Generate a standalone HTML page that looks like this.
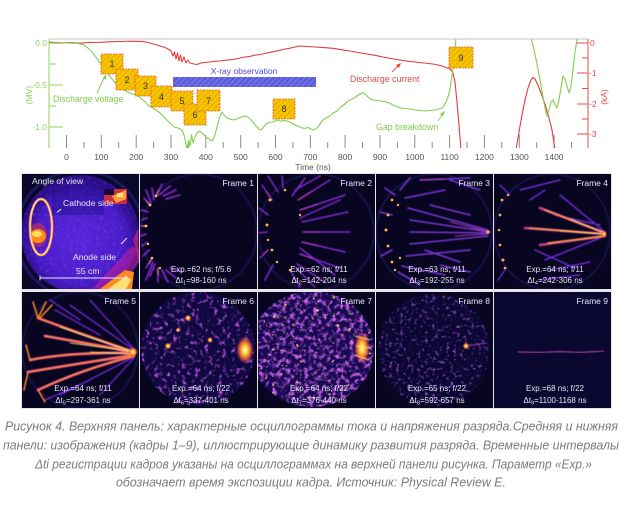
<!DOCTYPE html>
<html><head><meta charset="utf-8">
<style>
html,body{margin:0;padding:0;background:#fff;}
svg{display:block;}
text{font-family:"Liberation Sans","Noto Sans CJK SC",sans-serif;}
</style></head>
<body>
<svg width="624" height="511" viewBox="0 0 624 511" xmlns="http://www.w3.org/2000/svg">
<defs>
  <pattern id="yh" width="4" height="4" patternUnits="userSpaceOnUse" patternTransform="rotate(45)">
    <rect width="4" height="4" fill="#f6c400"/>
    <line x1="0" y1="0" x2="0" y2="4" stroke="#e39a00" stroke-width="1.3"/>
  </pattern>
  <pattern id="bh" width="4" height="4" patternUnits="userSpaceOnUse" patternTransform="rotate(45)">
    <rect width="4" height="4" fill="#6c6ce4"/>
    <line x1="0" y1="0" x2="0" y2="4" stroke="#4242c4" stroke-width="1.4"/>
  </pattern>
  <clipPath id="plot"><rect x="49" y="39" width="539" height="109"/></clipPath>
  <clipPath id="c0"><rect x="22" y="174" width="117" height="115"/></clipPath>
  <clipPath id="c1"><rect x="140" y="174" width="117" height="115"/></clipPath>
  <clipPath id="c2"><rect x="258" y="174" width="117" height="115"/></clipPath>
  <clipPath id="c3"><rect x="376" y="174" width="117" height="115"/></clipPath>
  <clipPath id="c4"><rect x="494" y="174" width="117" height="115"/></clipPath>
  <clipPath id="c5"><rect x="22" y="292" width="117" height="116"/></clipPath>
  <clipPath id="c6"><rect x="140" y="292" width="117" height="116"/></clipPath>
  <clipPath id="c7"><rect x="258" y="292" width="117" height="116"/></clipPath>
  <clipPath id="c8"><rect x="376" y="292" width="117" height="116"/></clipPath>
  <clipPath id="c9"><rect x="494" y="292" width="117" height="116"/></clipPath>
  <radialGradient id="disk0" cx="0.5" cy="0.55" r="0.5">
    <stop offset="0" stop-color="#5a26dc"/>
    <stop offset="0.75" stop-color="#4a1cc8"/>
    <stop offset="1" stop-color="#2a0c88"/>
  </radialGradient>
  <radialGradient id="hot">
    <stop offset="0" stop-color="#ffffd0"/>
    <stop offset="0.3" stop-color="#ffd040"/>
    <stop offset="0.65" stop-color="#ff7020" stop-opacity="0.8"/>
    <stop offset="1" stop-color="#c02090" stop-opacity="0"/>
  </radialGradient>
  <filter id="soft" x="-10%" y="-10%" width="120%" height="120%"><feGaussianBlur stdDeviation="0.5"/></filter>
  <filter id="spk6" x="0" y="0" width="1" height="1">
    <feTurbulence type="fractalNoise" baseFrequency="0.22" numOctaves="2" seed="4" result="n"/>
    <feColorMatrix in="n" type="matrix" values="0 0 0 0 0.55  0 0 0 0 0.1  0 0 0 0 0.85  3.2 0 0 0 -1.72" result="c"/>
    <feComposite in="c" in2="SourceGraphic" operator="in"/>
  </filter>
  <filter id="spk7" x="0" y="0" width="1" height="1">
    <feTurbulence type="fractalNoise" baseFrequency="0.22" numOctaves="2" seed="9" result="n"/>
    <feColorMatrix in="n" type="matrix" values="0 0 0 0 0.6  0 0 0 0 0.12  0 0 0 0 0.85  3.3 0 0 0 -1.55" result="c"/>
    <feComposite in="c" in2="SourceGraphic" operator="in"/>
  </filter>
  <filter id="spk7o" x="0" y="0" width="1" height="1">
    <feTurbulence type="fractalNoise" baseFrequency="0.25" numOctaves="2" seed="21" result="n"/>
    <feColorMatrix in="n" type="matrix" values="0 0 0 0 1  0 0 0 0 0.5  0 0 0 0 0.2  6 0 0 0 -4.0" result="c"/>
    <feComposite in="c" in2="SourceGraphic" operator="in"/>
  </filter>
  <filter id="spk8" x="0" y="0" width="1" height="1">
    <feTurbulence type="fractalNoise" baseFrequency="0.28" numOctaves="2" seed="13" result="n"/>
    <feColorMatrix in="n" type="matrix" values="0 0 0 0 0.38  0 0 0 0 0.1  0 0 0 0 0.72  2.8 0 0 0 -1.55" result="c"/>
    <feComposite in="c" in2="SourceGraphic" operator="in"/>
  </filter>
  <filter id="spk0" x="0" y="0" width="1" height="1">
    <feTurbulence type="fractalNoise" baseFrequency="0.3" numOctaves="2" seed="5" result="n"/>
    <feColorMatrix in="n" type="matrix" values="0 0 0 0 0.45  0 0 0 0 0.2  0 0 0 0 0.95  2.5 0 0 0 -1.3" result="c"/>
    <feComposite in="c" in2="SourceGraphic" operator="in"/>
  </filter>
</defs>

<!-- ================= CHART ================= -->
<line x1="49" y1="39" x2="588" y2="39" stroke="#c4c4c4" stroke-width="1"/>
<line x1="49" y1="39" x2="49" y2="148" stroke="#8fd35c" stroke-width="1"/>
<g stroke="#8fd35c" stroke-width="1">
  <line x1="49" y1="43" x2="63" y2="43"/>
  <line x1="49" y1="64" x2="56" y2="64"/>
  <line x1="49" y1="85" x2="63" y2="85"/>
  <line x1="49" y1="106" x2="56" y2="106"/>
  <line x1="49" y1="127" x2="63" y2="127"/>
</g>
<g fill="#8fd35c" font-size="8.5" text-anchor="end">
  <text x="47" y="46">0.0</text>
  <text x="47" y="88">-0.5</text>
  <text x="47" y="130">-1.0</text>
</g>
<text transform="translate(32,95) rotate(-90)" fill="#8fd35c" font-size="8.5" text-anchor="middle">(MV)</text>
<line x1="588" y1="39" x2="588" y2="148" stroke="#e84a4a" stroke-width="1"/>
<g stroke="#e84a4a" stroke-width="1">
  <line x1="577" y1="43" x2="588" y2="43"/>
  <line x1="582" y1="58" x2="588" y2="58"/>
  <line x1="577" y1="73" x2="588" y2="73"/>
  <line x1="582" y1="88.5" x2="588" y2="88.5"/>
  <line x1="577" y1="104" x2="588" y2="104"/>
  <line x1="582" y1="119" x2="588" y2="119"/>
  <line x1="577" y1="134" x2="588" y2="134"/>
</g>
<g fill="#e84a4a" font-size="8.5">
  <text x="590" y="46">0</text>
  <text x="589" y="76">-1</text>
  <text x="589" y="107">-2</text>
  <text x="589" y="137">-3</text>
</g>
<text transform="translate(607,97) rotate(-90)" fill="#e84a4a" font-size="8.5" text-anchor="middle">(kA)</text>

<g stroke="#8a8a8a" stroke-width="1">
  <line x1="66.5" y1="135" x2="66.5" y2="148"/><line x1="84" y1="142" x2="84" y2="148"/>
  <line x1="101.3" y1="135" x2="101.3" y2="148"/><line x1="118.7" y1="142" x2="118.7" y2="148"/>
  <line x1="136.2" y1="135" x2="136.2" y2="148"/><line x1="153.6" y1="142" x2="153.6" y2="148"/>
  <line x1="171" y1="135" x2="171" y2="148"/><line x1="188.4" y1="142" x2="188.4" y2="148"/>
  <line x1="205.8" y1="135" x2="205.8" y2="148"/><line x1="223.2" y1="142" x2="223.2" y2="148"/>
  <line x1="240.7" y1="135" x2="240.7" y2="148"/><line x1="258.1" y1="142" x2="258.1" y2="148"/>
  <line x1="275.5" y1="135" x2="275.5" y2="148"/><line x1="292.9" y1="142" x2="292.9" y2="148"/>
  <line x1="310.3" y1="135" x2="310.3" y2="148"/><line x1="327.7" y1="142" x2="327.7" y2="148"/>
  <line x1="345.1" y1="135" x2="345.1" y2="148"/><line x1="362.5" y1="142" x2="362.5" y2="148"/>
  <line x1="380" y1="135" x2="380" y2="148"/><line x1="397.4" y1="142" x2="397.4" y2="148"/>
  <line x1="414.8" y1="135" x2="414.8" y2="148"/><line x1="432.2" y1="142" x2="432.2" y2="148"/>
  <line x1="449.6" y1="135" x2="449.6" y2="148"/><line x1="467" y1="142" x2="467" y2="148"/>
  <line x1="484.4" y1="135" x2="484.4" y2="148"/><line x1="501.8" y1="142" x2="501.8" y2="148"/>
  <line x1="519.3" y1="135" x2="519.3" y2="148"/><line x1="536.7" y1="142" x2="536.7" y2="148"/>
  <line x1="554.1" y1="135" x2="554.1" y2="148"/><line x1="571.5" y1="142" x2="571.5" y2="148"/>
</g>
<g fill="#555" font-size="8.5" text-anchor="middle">
  <text x="66.5" y="160">0</text><text x="101.3" y="160">100</text><text x="136.2" y="160">200</text>
  <text x="171" y="160">300</text><text x="205.8" y="160">400</text><text x="240.7" y="160">500</text>
  <text x="275.5" y="160">600</text><text x="310.3" y="160">700</text><text x="345.1" y="160">800</text>
  <text x="380" y="160">900</text><text x="414.8" y="160">1000</text><text x="449.6" y="160">1100</text>
  <text x="484.4" y="160">1200</text><text x="519.3" y="160">1300</text><text x="554.1" y="160">1400</text>
</g>
<text x="313" y="170" fill="#555" font-size="8.5" text-anchor="middle">Time (ns)</text>

<rect x="173" y="77" width="143" height="10" fill="url(#bh)"/>
<text x="244" y="74" fill="#4a4ad0" font-size="8.5" text-anchor="middle">X-ray observation</text>

<g clip-path="url(#plot)" fill="none" stroke-linejoin="round">
  <path stroke="#e23c3c" stroke-width="1.1" d="M49 42.5L60 43L70 42.6L80 43.2L90 42.4L100 42.3L110 41.8L120 41.5L130 41.2L140 41.4L146 42L150 43L155 44.5L160 46L165 47.5L168 49L171 51L173 56L174.5 52L176 59L177.5 53L179 61L180.5 55L182 62L184 57L186 63L188 60L190 63L194 64L197 64.5L201 63L205 62.5L210 62L215 61.2L220 61L225 60.3L233 59.5L240 58L245 57L250 56.4L255 55.2L260 54.5L267 53L273 51.8L280 50.3L285 49L290 48.2L295 47L300 46L307 46.5L315 47L324 47.6L333 48.3L342 49.8L350 51L358 52.5L367 54L375 55.3L383 57L391 58.5L400 60L408 61.2L415 62L424 63L433 64L438 65L442 66L446 67.5L449 68.5L451 70L453 73L455 82L457 102L459 125L461 150"/>
  <path stroke="#e23c3c" stroke-width="1.1" d="M516 150L519 132L522 115L525 100L528 88L531 80L533 77.5L535 79L538 85L541 93L545 104L549 118L552 130L555 150"/>
  <path stroke="#82cf4e" stroke-width="1.1" d="M49 42L60 42.5L70 43L78 43.5L84 45L88 48L92 52L96 57L100 63L104 69L108 74L112 79L116 84L120 88L124 90L128 92L132 94L136 95L140 97.5L144 101L148 105L152 107.5L156 110L160 113L164 117L168 121L171 124L174 127L178 128L182 130L184 135L185.5 142L187 150L188.5 140L190 146L191.5 135L193 143L195 137L197 133L200 131L203 134L206 137L209 139L212 141L214 138L216 131L218 123L220 116L222 112L224 115L227 118L230 119L233 120L237 119L240 117.5L244 116L247 116.5L250 119L253 122L256 126L259 129L261 130L263 128L266 124L269 122.5L273 122L277 120L281 121L285 120.5L290 122L295 125L300 127L304 128.5L308 127.5L313 130L317 128L320 124L323 120L326 118L330 116L333 113L337 111L341 107L345 104L348 101L351 99.5L354 98L357 96L360 94L363 92.5L366 95L369 98L373 100L377 100.5L381 101L385 101.5L389 103L393 105L397 106.5L401 108L405 108.5L410 109L415 110L420 110.5L425 111L430 110.5L435 110L439 109L442 108L444 106L446 102L448 97L450 89L452 76L454 58L456 38"/>
  <path stroke="#82cf4e" stroke-width="1.1" d="M531 38L534 50L537 64L540 80L543 97L545 108L547 116L549 110L551 102L553 100L555 105L557 108L559 100L561 88L563 76L565 79L567 86L569 93L571 86L573 70L575 52L577 40L578 38"/>
</g>

<text x="53" y="102" fill="#7fcb4a" font-size="8.8">Discharge voltage</text>
<path d="M97 93L104 78" stroke="#7fcb4a" stroke-width="0.9" fill="none"/>
<path d="M106 74L102.5 78.5L106 79.5Z" fill="#7fcb4a"/>
<text x="350" y="82" fill="#e34848" font-size="8.8">Discharge current</text>
<path d="M392 72L399 65" stroke="#e34848" stroke-width="0.9" fill="none"/>
<path d="M401 63L396 65L399 68Z" fill="#e34848"/>
<text x="376" y="130" fill="#7fcb4a" font-size="8.8">Gap breakdown</text>
<path d="M438 121L443 114" stroke="#7fcb4a" stroke-width="0.9" fill="none"/>
<path d="M445 111L440 114L443 116Z" fill="#7fcb4a"/>

<g stroke="#e0603c" stroke-width="0.8" stroke-dasharray="2,1">
  <rect x="101" y="54" width="22" height="20" fill="url(#yh)"/>
  <rect x="116" y="69" width="22" height="21" fill="url(#yh)"/>
  <rect x="135" y="76" width="21" height="20" fill="url(#yh)"/>
  <rect x="151" y="86" width="21" height="21" fill="url(#yh)"/>
  <rect x="171" y="91" width="22" height="20" fill="url(#yh)"/>
  <rect x="184" y="104" width="22" height="21" fill="url(#yh)"/>
  <rect x="197" y="90" width="23" height="21" fill="url(#yh)"/>
  <rect x="273" y="99" width="22" height="20" fill="url(#yh)"/>
  <rect x="449" y="47" width="24" height="21" fill="url(#yh)"/>
</g>
<g fill="#333" font-size="9" text-anchor="middle">
  <text x="112" y="67">1</text><text x="127" y="83">2</text><text x="145.5" y="89">3</text>
  <text x="161.5" y="100">4</text><text x="182" y="104">5</text><text x="195" y="118">6</text>
  <text x="208.5" y="104">7</text><text x="284" y="112">8</text><text x="461" y="61">9</text>
</g>

<!-- ================= IMAGE PANELS ================= -->
<rect x="21" y="173" width="591" height="236" fill="#e6e6ea"/>

<g clip-path="url(#c0)">
  <rect x="22" y="174" width="117" height="115" fill="#0a0828"/>
  <circle cx="80" cy="234" r="64" fill="none" stroke="#1c1660" stroke-width="3"/>
  <circle cx="80" cy="234" r="59" fill="url(#disk0)"/>
  <circle cx="80" cy="234" r="59" fill="#fff" filter="url(#spk0)" opacity="0.25"/>
  <rect x="52" y="185" width="52" height="30" fill="#22108a" opacity="0.45"/>
  <path d="M92 289L132 246L139 250L139 262L118 289Z" fill="#b520a8" opacity="0.65"/>
  <path d="M100 289L125 270L134 272L132 289Z" fill="#ff8a20"/>
  <path d="M108 289L126 276L131 280L126 289Z" fill="#ffe070"/>
  <rect x="104" y="189" width="23" height="15" fill="#c8303a"/>
  <rect x="104" y="189" width="10" height="6" fill="#140a40"/>
  <path d="M112 196L126 190L126 199L116 203Z" fill="#ff9a40"/>
  <rect x="117" y="193" width="6" height="4" fill="#ffe880"/>
  <ellipse cx="38" cy="235" rx="9" ry="12" fill="#9a2a80"/>
  <ellipse cx="38" cy="236" rx="8" ry="7" fill="#ff8a20"/>
  <ellipse cx="37" cy="234" rx="5" ry="3" fill="#ffe060"/>
  <ellipse cx="41" cy="227" rx="11" ry="28" fill="none" stroke="#ff9a40" stroke-width="2.6"/>
  <ellipse cx="41" cy="227" rx="11" ry="28" fill="none" stroke="#fff4d0" stroke-width="0.8"/>
  <path d="M133 240L138 228L139 260Z" fill="#d02878" opacity="0.7"/>
</g>
<g fill="#e8e6f4" font-size="8.6">
  <text x="32" y="184">Angle of view</text>
  <text x="63" y="206">Cathode side</text>
  <text x="73" y="260">Anode side</text>
  <text x="76" y="274">55 cm</text>
</g>
<g stroke="#e8e6f4" stroke-width="1">
  <line x1="40" y1="278" x2="126" y2="278"/>
  <line x1="40" y1="275.5" x2="40" y2="280.5"/>
  <line x1="126" y1="275.5" x2="126" y2="280.5"/>
  <line x1="61" y1="209" x2="57" y2="212.5"/>
  <line x1="121" y1="244" x2="127" y2="238"/>
</g>

<g clip-path="url(#c1)">
  <rect x="140" y="174" width="117" height="115" fill="#070520"/>
  <circle cx="199" cy="232" r="58" fill="none" stroke="#141040" stroke-width="2.5"/>
  <g filter="url(#soft)" stroke-linecap="round" fill="none">
    <path stroke="#8a2ad8" stroke-width="1.6" d="M156 196L162 184M159 195L170 186M163 196L176 190M154 200L152 188M166 199L180 195M150 205L144 198M148 212L141 210M147 218L142 220M146 226L141 226M146 234L141 236M147 242L142 246M149 250L143 256M152 258L146 268M155 264L150 276M158 268L158 282M162 270L168 282M166 270L176 278M170 268L182 272M151 203L146 190M153 262L146 280"/>
    <path stroke="#ff9838" stroke-width="0.8" d="M156 196L159 190M150 205L146 201M146 226L142 226M152 258L149 264M158 268L158 275"/>
  </g>
  <g fill="#ffc050"><circle cx="150" cy="205" r="1.4"/><circle cx="146" cy="226" r="1.4"/><circle cx="148" cy="244" r="1.2"/><circle cx="156" cy="196" r="1.3"/><circle cx="152" cy="258" r="1.3"/><circle cx="160" cy="268" r="1.1"/></g>
</g>

<g clip-path="url(#c2)">
  <rect x="258" y="174" width="117" height="115" fill="#070520"/>
  <circle cx="316" cy="232" r="58" fill="none" stroke="#141040" stroke-width="2.5"/>
  <g filter="url(#soft)" stroke-linecap="round" fill="none">
    <path stroke="#7e2ad0" stroke-width="1.5" d="M298 200L330 180M300 210L345 195M302 222L348 212M303 232L350 232M302 242L345 252M300 254L340 268M297 264L325 282M292 196L305 178M290 270L300 287M272 200L262 185M268 215L259 208M267 232L259 233M268 250L260 258M273 265L265 280M283 188L282 176M278 192L268 176M295 190L320 176M296 268L315 287M300 248L335 275M300 218L340 200"/>
    <path stroke="#d040c0" stroke-width="0.8" d="M298 200L312 191M300 210L318 204M303 232L320 232M302 242L318 246M300 254L314 259M272 200L266 191M268 250L263 255"/>
  </g>
  <g fill="#ffb040"><circle cx="270" cy="200" r="1.5"/><circle cx="267" cy="225" r="1.5"/><circle cx="272" cy="250" r="1.4"/><circle cx="285" cy="190" r="1.3"/><circle cx="290" cy="270" r="1.3"/><circle cx="300" cy="215" r="1.2"/><circle cx="268" cy="240" r="1.2"/><circle cx="277" cy="262" r="1.2"/></g>
</g>

<g clip-path="url(#c3)">
  <rect x="376" y="174" width="117" height="115" fill="#070520"/>
  <circle cx="434" cy="232" r="58" fill="none" stroke="#141040" stroke-width="2.5"/>
  <g filter="url(#soft)" stroke-linecap="round" fill="none">
    <path stroke="#7a34d8" stroke-width="1.6" d="M405 198L445 190M408 208L488 230M410 220L490 232M410 232L488 233M410 244L488 236M406 256L470 250M402 266L445 275M398 272L420 285M420 180L470 178M440 265L470 272M395 195L385 188M392 215L380 212M392 250L381 256M400 190L410 178M430 205L470 215M425 250L460 262M450 180L480 190"/>
    <path stroke="#c84cd0" stroke-width="0.8" d="M450 222L490 232M455 236L488 234M420 180L445 179"/>
  </g>
  <g fill="#ffb848"><circle cx="392" cy="200" r="1.4"/><circle cx="388" cy="215" r="1.4"/><circle cx="386" cy="230" r="1.5"/><circle cx="388" cy="246" r="1.4"/><circle cx="392" cy="262" r="1.4"/><circle cx="398" cy="205" r="1.2"/><circle cx="400" cy="258" r="1.2"/><circle cx="395" cy="270" r="1.2"/><circle cx="488" cy="232" r="1.6"/></g>
</g>

<g clip-path="url(#c4)">
  <rect x="494" y="174" width="117" height="115" fill="#070520"/>
  <circle cx="552" cy="232" r="58" fill="none" stroke="#141040" stroke-width="2.5"/>
  <g filter="url(#soft)" stroke-linecap="round" fill="none">
    <path stroke="#6a2ad0" stroke-width="1.5" d="M520 190L560 180M545 260L600 238M550 270L590 262M560 195L605 232M535 250L575 268M555 215L600 225M510 195L500 185M505 270L498 280M530 200L545 190M540 280L580 275"/>
    <path stroke="#d03a98" stroke-width="2.6" d="M540 208L605 233M525 228L605 234M540 245L605 236"/>
    <path stroke="#ff9a30" stroke-width="1.4" d="M545 210L605 233M530 228L605 234M548 243L605 236"/>
    <path stroke="#ffe878" stroke-width="0.6" d="M570 219L605 233M560 231L605 234"/>
  </g>
  <g fill="#ffb040"><circle cx="502" cy="200" r="1.4"/><circle cx="500" cy="215" r="1.4"/><circle cx="499" cy="230" r="1.3"/><circle cx="500" cy="245" r="1.4"/><circle cx="503" cy="260" r="1.5"/><circle cx="505" cy="268" r="1.3"/><circle cx="508" cy="195" r="1.2"/></g>
  <circle cx="604" cy="234" r="3" fill="url(#hot)"/>
</g>

<g clip-path="url(#c5)">
  <rect x="22" y="292" width="117" height="116" fill="#070520"/>
  <circle cx="80" cy="350" r="58" fill="none" stroke="#141040" stroke-width="2.5"/>
  <g filter="url(#soft)" stroke-linecap="round" fill="none">
    <path stroke="#6a28c8" stroke-width="1.4" d="M70 305L134 350M90 300L134 349M60 395L134 357M50 300L80 320M45 400L90 380M100 395L134 358M55 310L100 335"/>
    <path stroke="#c02a8a" stroke-width="3" d="M38 318Q70 330 134 352M45 336Q80 342 134 352M30 360Q70 352 134 353M28 372Q70 365 134 355M38 390Q80 370 134 356"/>
    <path stroke="#ff8a28" stroke-width="1.5" d="M38 318Q70 330 134 352M45 336Q80 342 134 352M30 360Q70 352 134 353M28 372Q70 365 134 355M38 390Q80 370 134 356M38 318L33 302M38 318L46 302M40 318L52 305M28 372L24 390M38 390L45 402M30 360L26 345"/>
    <path stroke="#ffec90" stroke-width="0.7" d="M60 327Q90 338 134 352M70 343Q100 347 134 352M90 352L134 354"/>
  </g>
  <circle cx="133" cy="352" r="5" fill="url(#hot)"/>
</g>

<g clip-path="url(#c6)">
  <rect x="140" y="292" width="117" height="116" fill="#070520"/>
  <circle cx="198" cy="349" r="57" fill="#100840"/>
  <circle cx="198" cy="349" r="57" fill="#fff" filter="url(#spk6)"/>
  <ellipse cx="245" cy="350" rx="9" ry="14" fill="url(#hot)"/>
  <circle cx="188" cy="318" r="3.5" fill="url(#hot)"/>
  <circle cx="168" cy="346" r="3.5" fill="url(#hot)"/>
  <circle cx="210" cy="340" r="3" fill="url(#hot)"/>
  <circle cx="178" cy="330" r="2.5" fill="url(#hot)"/>
</g>

<g clip-path="url(#c7)">
  <rect x="258" y="292" width="117" height="116" fill="#070520"/>
  <ellipse cx="312" cy="349" rx="62" ry="58" fill="#180a52"/>
  <ellipse cx="312" cy="349" rx="62" ry="58" fill="#fff" filter="url(#spk7)"/>
  <ellipse cx="312" cy="349" rx="62" ry="58" fill="#fff" filter="url(#spk7o)"/>
  <ellipse cx="362" cy="348" rx="8" ry="16" fill="url(#hot)"/>
  <path d="M355 336L370 340M356 346L371 348M355 355L369 360" stroke="#ffe070" stroke-width="1" filter="url(#soft)"/>
</g>

<g clip-path="url(#c8)">
  <rect x="376" y="292" width="117" height="116" fill="#070520"/>
  <circle cx="434" cy="350" r="56" fill="#0b0732"/>
  <circle cx="434" cy="350" r="56" fill="#fff" filter="url(#spk8)"/>
  <path d="M466 346L487 343" stroke="#a040c0" stroke-width="1" filter="url(#soft)"/>
  <circle cx="466" cy="346" r="3.5" fill="url(#hot)"/>
</g>

<g clip-path="url(#c9)">
  <rect x="494" y="292" width="117" height="116" fill="#0a0830"/>
  <path d="M518 352L540 352.5L560 351.5L580 352.5L604 351" stroke="#c04ab8" stroke-width="1.1" fill="none" filter="url(#soft)"/>
</g>

<g fill="#e8e6f4" font-size="8.5" text-anchor="end">
  <text x="254" y="186">Frame 1</text><text x="372" y="186">Frame 2</text>
  <text x="490" y="186">Frame 3</text><text x="608" y="186">Frame 4</text>
  <text x="136" y="304">Frame 5</text><text x="254" y="304">Frame 6</text>
  <text x="372" y="304">Frame 7</text><text x="490" y="304">Frame 8</text>
  <text x="608" y="304">Frame 9</text>
</g>
<g fill="#e8e6f4" font-size="8" text-anchor="middle">
  <text x="201" y="272">Exp.=62 ns; f/5.6</text>
  <text x="201" y="283">Δt<tspan font-size="5.5" dy="1.5">1</tspan><tspan dy="-1.5">=98-160 ns</tspan></text>
  <text x="319" y="272">Exp.=62 ns; f/11</text>
  <text x="319" y="283">Δt<tspan font-size="5.5" dy="1.5">2</tspan><tspan dy="-1.5">=142-204 ns</tspan></text>
  <text x="437" y="272">Exp.=63 ns; f/11</text>
  <text x="437" y="283">Δt<tspan font-size="5.5" dy="1.5">3</tspan><tspan dy="-1.5">=192-255 ns</tspan></text>
  <text x="555" y="272">Exp.=64 ns; f/11</text>
  <text x="555" y="283">Δt<tspan font-size="5.5" dy="1.5">4</tspan><tspan dy="-1.5">=242-306 ns</tspan></text>
  <text x="83" y="391">Exp.=64 ns; f/11</text>
  <text x="83" y="403">Δt<tspan font-size="5.5" dy="1.5">5</tspan><tspan dy="-1.5">=297-361 ns</tspan></text>
  <text x="201" y="391">Exp.=64 ns; f/22</text>
  <text x="201" y="403">Δt<tspan font-size="5.5" dy="1.5">6</tspan><tspan dy="-1.5">=337-401 ns</tspan></text>
  <text x="319" y="391">Exp.=64 ns; f/22</text>
  <text x="319" y="403">Δt<tspan font-size="5.5" dy="1.5">7</tspan><tspan dy="-1.5">=376-440 ns</tspan></text>
  <text x="437" y="391">Exp.=65 ns; f/22</text>
  <text x="437" y="403">Δt<tspan font-size="5.5" dy="1.5">8</tspan><tspan dy="-1.5">=592-657 ns</tspan></text>
  <text x="555" y="391">Exp.=68 ns; f/22</text>
  <text x="555" y="403">Δt<tspan font-size="5.5" dy="1.5">9</tspan><tspan dy="-1.5">=1100-1168 ns</tspan></text>
</g>

<g fill="#7c7c7c" font-size="13" font-style="italic">
  <text x="5" y="430.5" textLength="613" lengthAdjust="spacingAndGlyphs">Рисунок 4. Верхняя панель: характерные осциллограммы тока и напряжения разряда.Средняя и нижняя</text>
  <text x="3" y="449.5" textLength="616" lengthAdjust="spacingAndGlyphs">панели: изображения (кадры 1–9), иллюстрирующие динамику развития разряда. Временные интервалы</text>
  <text x="35" y="468.5" textLength="557" lengthAdjust="spacingAndGlyphs">Δti регистрации кадров указаны на осциллограммах на верхней панели рисунка. Параметр «Exp.»</text>
  <text x="116" y="486.5" textLength="390" lengthAdjust="spacingAndGlyphs">обозначает время экспозиции кадра. Источник: Physical Review E.</text>
</g>
</svg>
</body></html>
